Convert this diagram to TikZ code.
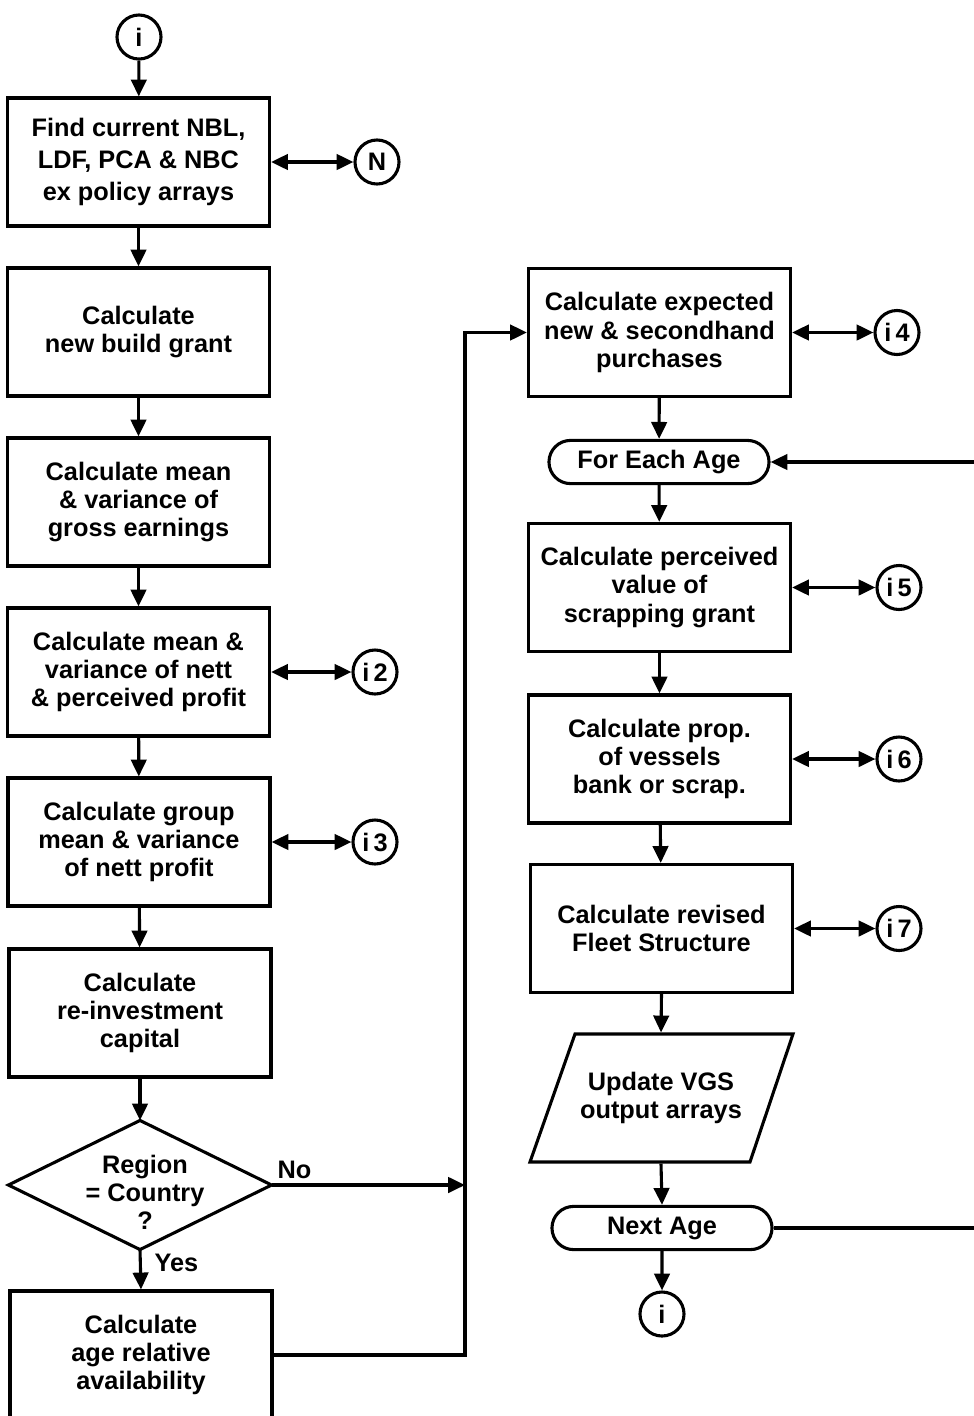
\documentclass[tikz,border=0pt]{standalone}
\usepackage{fontspec}
\setmainfont{Liberation Sans}
\usetikzlibrary{shapes.geometric,shapes.misc,arrows.meta}
\begin{document}
\begin{tikzpicture}[x=0.025cm,y=-0.025cm,
  font=\fontsize{18}{20}\selectfont\bfseries,
  line width=2.2pt,
  >={Triangle[length=12pt,width=11pt]},
  procbox/.style={draw, rectangle, align=center, inner sep=0pt,
                  minimum width=6.55cm, minimum height=3.2cm},
  conn/.style={draw, circle, inner sep=0pt, minimum size=1.1cm},
  term/.style={draw, rounded rectangle, inner sep=0pt,
               minimum width=5.5cm, minimum height=1.08cm},
  frame/.style={align=center, inner sep=0pt},
  lbl/.style={inner sep=0pt}]
\clip (0,0) rectangle (974,1416);

% left column
\node[conn] (ctop) at (139,37) {i};
\node[procbox, font=\fontsize{18}{23}\selectfont\bfseries] (b1) at (138.5,162)
  {Find current NBL,\\LDF, PCA \& NBC\\ex policy arrays};
\node[conn] (cN) at (377,162) {N};
\node[procbox] (b2) at (138.5,332) {Calculate\\new build grant};
\node[procbox] (b3) at (138.5,502) {Calculate mean\\\& variance of\\gross earnings};
\node[procbox] (b4) at (138.5,672) {Calculate mean \&\\variance of nett\\\& perceived profit};
\node[conn] (c2) at (375,672) {i\,2};
\node[procbox] (b5) at (139,842) {Calculate group\\mean \& variance\\of nett profit};
\node[conn] (c3) at (375,842) {i\,3};
\node[procbox] (b6) at (140,1013) {Calculate\\re-investment\\capital};

% decision: frame node sized to the diamond, outline drawn through its side midpoints
\node[frame, minimum width=6.5cm, minimum height=3.15cm] (dec) at (140,1185) {};
\draw (dec.west) -- (dec.north) -- (dec.east) -- (dec.south) -- cycle;
\node[frame] (dectext) at (145,1192) {Region\\= Country\\?};
\node[lbl, anchor=south west] (no) at (276,1180) {No};
\node[lbl, anchor=west] (yes) at (153,1263) {Yes};
\node[procbox] (b7) at (141,1355) {Calculate\\age relative\\availability};

% right column
\node[procbox] (r1) at (659.5,332.5) {Calculate expected\\new \& secondhand\\purchases};
\node[conn] (c4) at (897,332.5) {i\,4};
\node[term] (fea) at (659,462) {For Each Age};
\node[procbox] (r2) at (659.5,587.5) {Calculate perceived\\value of\\scrapping grant};
\node[conn] (c5) at (899,587.5) {i\,5};
\node[procbox] (r3) at (659.5,759) {Calculate prop.\\of vessels\\bank or scrap.};
\node[conn] (c6) at (899,759) {i\,6};
\node[procbox] (r4) at (661.5,928.5) {Calculate revised\\Fleet Structure};
\node[conn] (c7) at (899,928.5) {i\,7};
\node[frame, minimum width=5cm, minimum height=3.2cm]
  (io) at (661,1098) {Update VGS\\output arrays};
\coordinate (pTL) at (575,1034);
\coordinate (pTR) at (793,1034);
\coordinate (pBR) at (750,1162);
\coordinate (pBL) at (530,1162);
\draw (pTL) -- (pTR) -- (pBR) -- (pBL) -- cycle;
\node[term] (na) at (662,1228) {Next Age};
\node[conn] (cbot) at (662,1314) {i};

% junctions and loop ends
\coordinate (jd) at (465,1185);
\coordinate (jb) at (465,1355);
\coordinate (loopin) at (980,462);
\coordinate (loopout) at (980,1228);

% flow connectors
\draw[->] (ctop) -- (b1);
\draw[->] (b1) -- (b2);
\draw[->] (b2) -- (b3);
\draw[->] (b3) -- (b4);
\draw[->] (b4) -- (b5);
\draw[->] (b5) -- (b6);
\draw[->] (b6.south) -- (dec.north);
\draw[->] (dec.south) -- (b7.north);
\draw[->] (dec.east) -- (jd);
\draw[->] (b7.east) -- (jb) |- (r1.west);
\draw[->] (r1) -- (fea);
\draw[->] (fea) -- (r2);
\draw[->] (r2) -- (r3);
\draw[->] (r3) -- (r4);
\draw[->] (r4.south) -- (io.north);
\draw[->] (io.south) -- (na.north);
\draw[->] (na) -- (cbot);
\draw[->] (loopin) -- (fea.east);
\draw (na.east) -- (loopout);

% data exchange connectors
\draw[<->] (b1) -- (cN);
\draw[<->] (b4) -- (c2);
\draw[<->] (b5) -- (c3);
\draw[<->] (r1) -- (c4);
\draw[<->] (r2) -- (c5);
\draw[<->] (r3) -- (c6);
\draw[<->] (r4) -- (c7);
\end{tikzpicture}
\end{document}
